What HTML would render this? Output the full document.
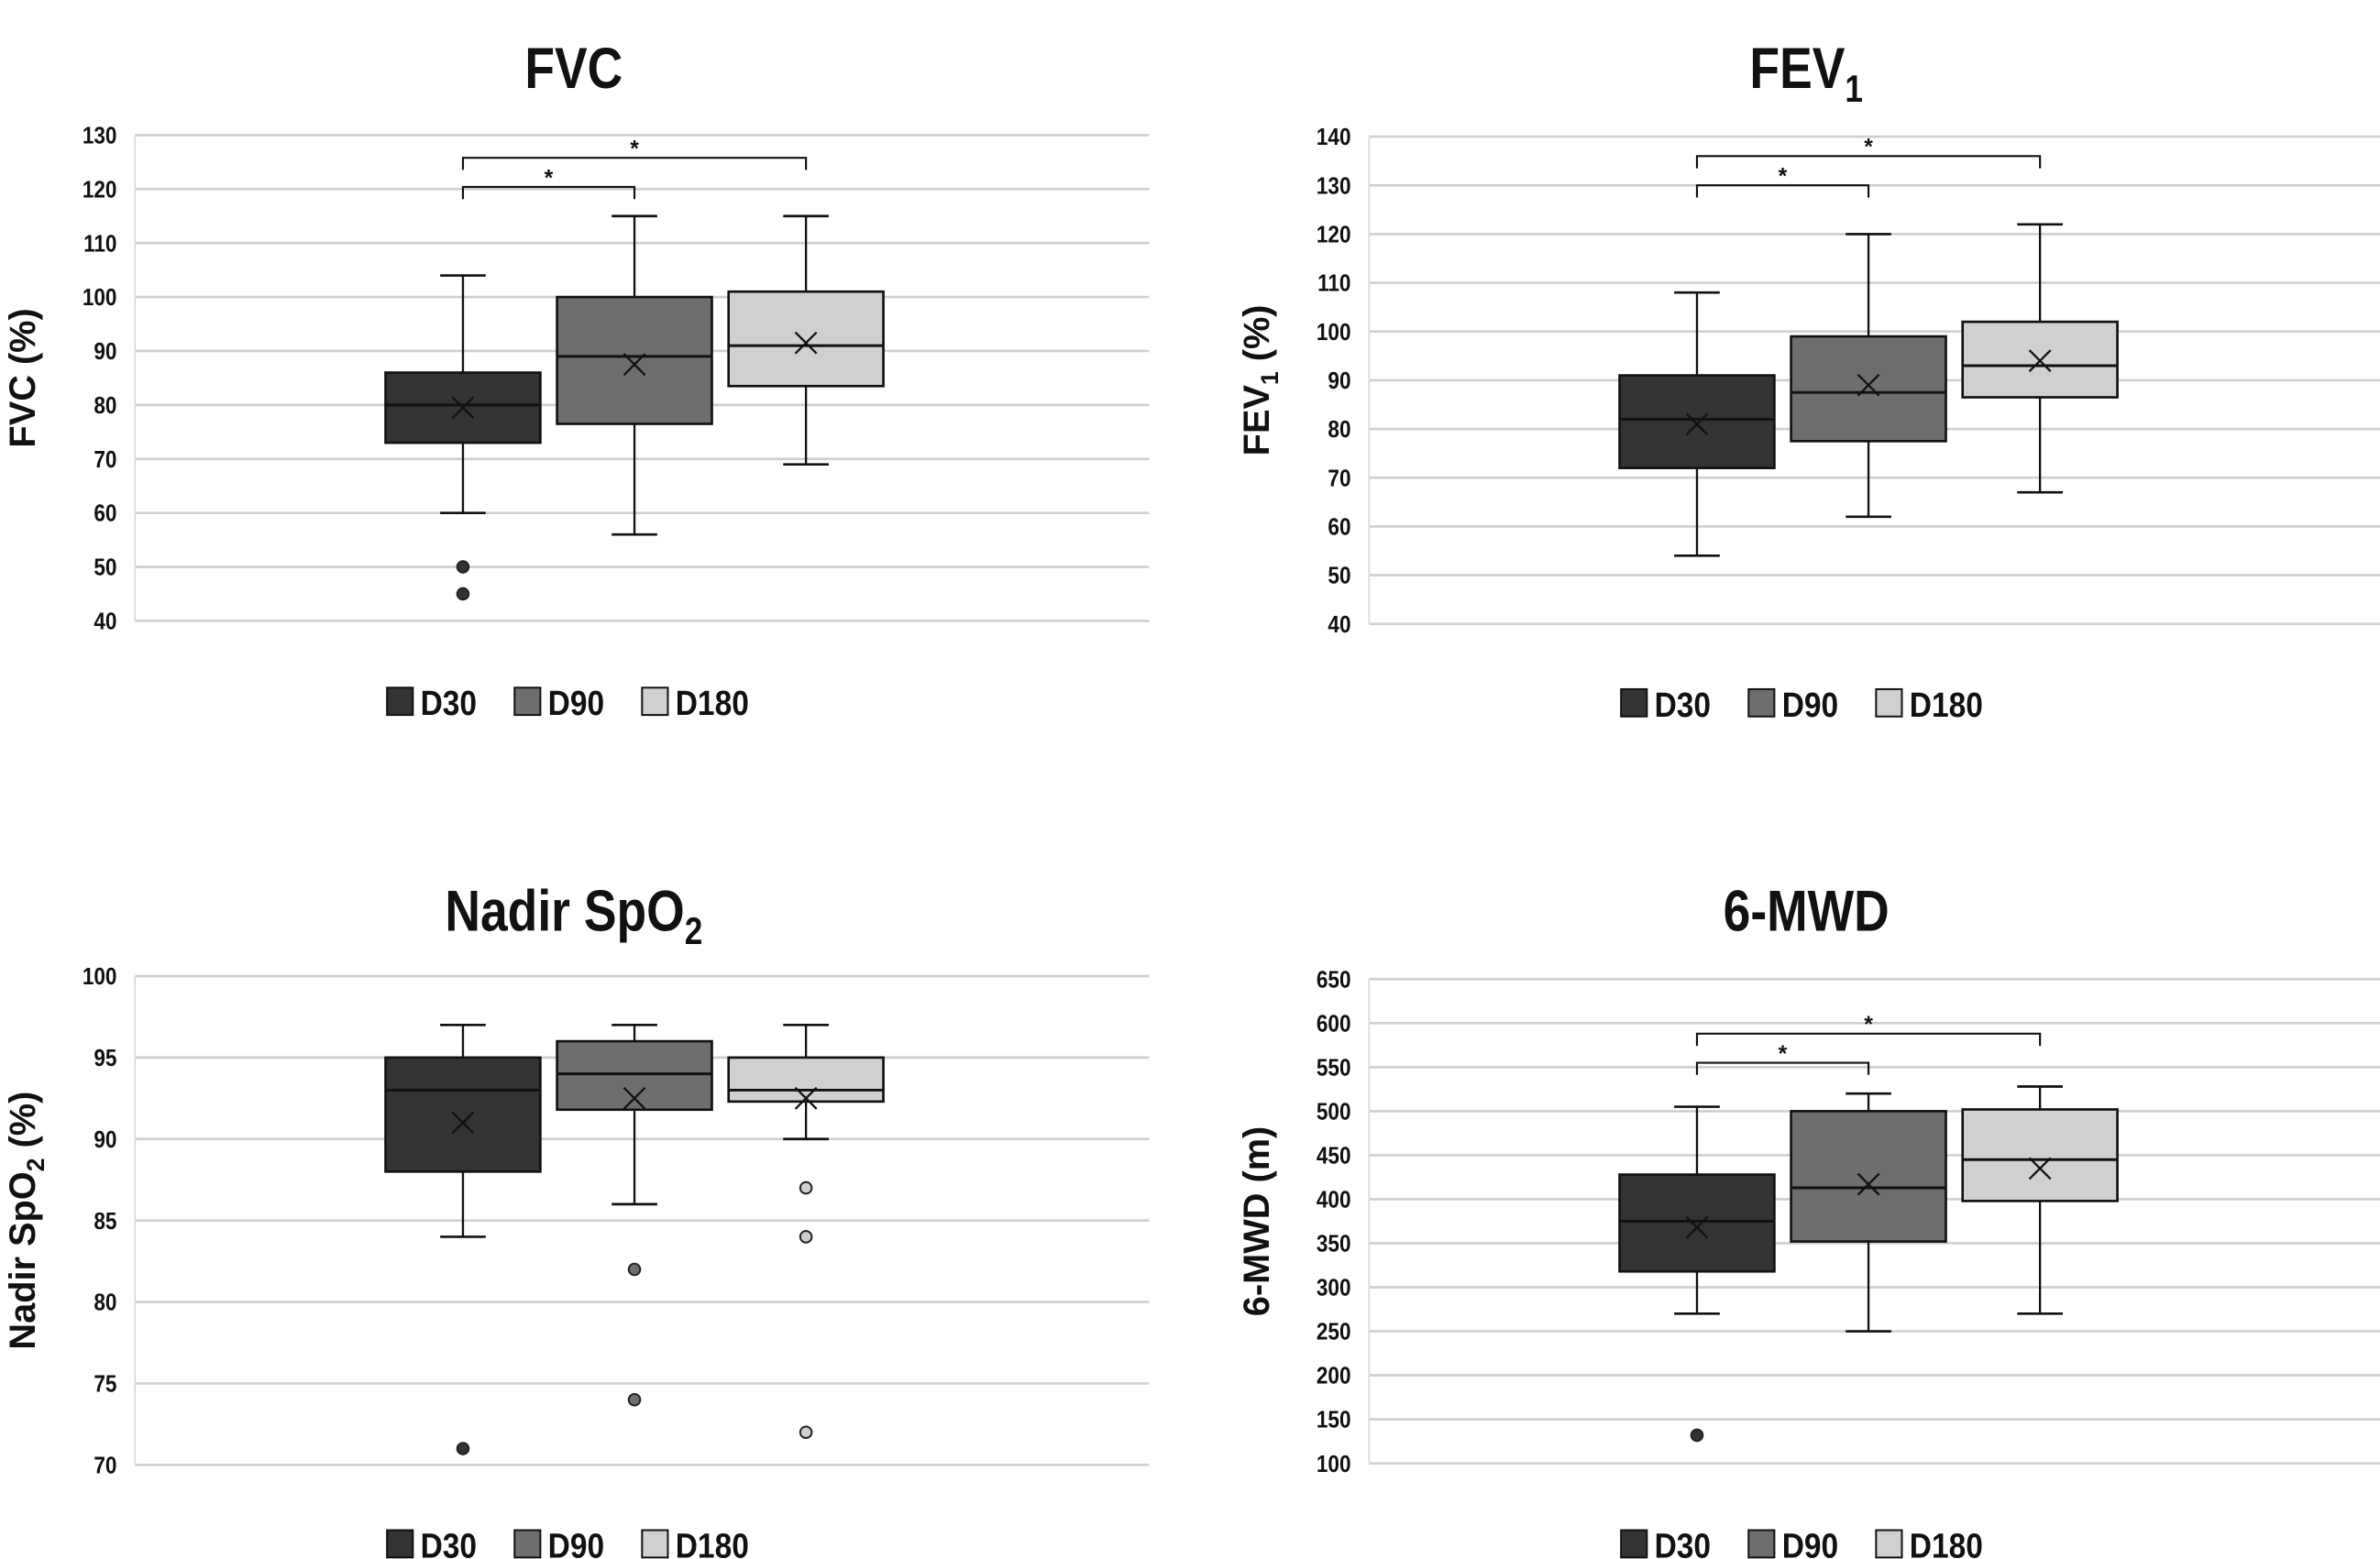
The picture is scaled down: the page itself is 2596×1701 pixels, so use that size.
<!DOCTYPE html>
<html><head><meta charset="utf-8"><style>
html,body{margin:0;padding:0;background:#fff;}
svg{display:block;}
text{font-family:"Liberation Sans",sans-serif;font-weight:bold;fill:#111;}
</style></head><body>
<svg id="fig" width="2596" height="1701" viewBox="0 0 1568 1027" preserveAspectRatio="none" xmlns="http://www.w3.org/2000/svg"></svg>
<script>
const categories = ["D30", "D90", "D180"];
const fills = ["#333333", "#6e6e6e", "#d0d0d0"];
// FVC
const fvcTicks = [40,50,60,70,80,90,100,110,120,130];
const fvcWhiskerLow = [60, 56, 69];
const fvcQ1 = [73, 76.5, 83.5];
const fvcMedian = [80, 89, 91];
const fvcQ3 = [86, 100, 101];
const fvcWhiskerHigh = [104, 115, 115];
const fvcMean = [79.5, 87.5, 91.5];
const fvcOutliers = [[50, 45], [], []];
const fvcBrackets = [[0, 1, 120.4], [0, 2, 125.8]];
// FEV1
const fevTicks = [40,50,60,70,80,90,100,110,120,130,140];
const fevWhiskerLow = [54, 62, 67];
const fevQ1 = [72, 77.5, 86.5];
const fevMedian = [82, 87.5, 93];
const fevQ3 = [91, 99, 102];
const fevWhiskerHigh = [108, 120, 122];
const fevMean = [81, 89, 94];
const fevOutliers = [[], [], []];
const fevBrackets = [[0, 1, 130], [0, 2, 136]];
// Nadir SpO2
const spoTicks = [70,75,80,85,90,95,100];
const spoWhiskerLow = [84, 86, 90];
const spoQ1 = [88, 91.8, 92.3];
const spoMedian = [93, 94, 93];
const spoQ3 = [95, 96, 95];
const spoWhiskerHigh = [97, 97, 97];
const spoMean = [91, 92.5, 92.5];
const spoOutliers = [[71], [82, 74], [87, 84, 72]];
const spoBrackets = [];
// 6-MWD
const mwdTicks = [100,150,200,250,300,350,400,450,500,550,600,650];
const mwdWhiskerLow = [270, 250, 270];
const mwdQ1 = [318, 352, 398];
const mwdMedian = [375, 413, 445];
const mwdQ3 = [428, 500, 502];
const mwdWhiskerHigh = [505, 520, 528];
const mwdMean = [368, 417, 435];
const mwdOutliers = [[132], [], []];
const mwdBrackets = [[0, 1, 555], [0, 2, 588]];

const NS = "http://www.w3.org/2000/svg";
const svg = document.getElementById("fig");
function mk(tag, attrs, parent) {
  const e = document.createElementNS(NS, tag);
  for (const k in attrs) e.setAttribute(k, attrs[k]);
  (parent || svg).appendChild(e);
  return e;
}
const panels = [
  {key:"fvc", title:"FVC", sub:"", ylab:"FVC (%)", ysub:"", x0:89, x1:757, yTop:89, yBot:409, cx0:305, ticks:fvcTicks, lo:fvcWhiskerLow, q1:fvcQ1, med:fvcMedian, q3:fvcQ3, hi:fvcWhiskerHigh, mean:fvcMean, out:fvcOutliers, br:fvcBrackets, ty:45, ly:462, ylx:15},
  {key:"fev1", title:"FEV", sub:"1", ylab:"FEV", ysub:"1", ylabAfter:" (%)", x0:902, x1:1568, yTop:90, yBot:411, cx0:1118, ticks:fevTicks, lo:fevWhiskerLow, q1:fevQ1, med:fevMedian, q3:fevQ3, hi:fevWhiskerHigh, mean:fevMean, out:fevOutliers, br:fevBrackets, ty:45, ly:463, ylx:828},
  {key:"nadir-spo2", title:"Nadir SpO", sub:"2", ylab:"Nadir SpO", ysub:"2", ylabAfter:" (%)", x0:89, x1:757, yTop:643, yBot:965, cx0:305, ticks:spoTicks, lo:spoWhiskerLow, q1:spoQ1, med:spoMedian, q3:spoQ3, hi:spoWhiskerHigh, mean:spoMean, out:spoOutliers, br:spoBrackets, ty:600, ly:1017, ylx:15},
  {key:"6mwd", title:"6-MWD", sub:"", ylab:"6-MWD (m)", ysub:"", x0:902, x1:1568, yTop:645, yBot:964, cx0:1118, ticks:mwdTicks, lo:mwdWhiskerLow, q1:mwdQ1, med:mwdMedian, q3:mwdQ3, hi:mwdWhiskerHigh, mean:mwdMean, out:mwdOutliers, br:mwdBrackets, ty:600, ly:1017, ylx:828}
];
const step = 113, bw = 102, cap = 15;
panels.forEach(p => {
  const g = mk("g", {});
  
  
  const tmin = p.ticks[0], tmax = p.ticks[p.ticks.length-1];
  const y = v => p.yBot - (v - tmin) / (tmax - tmin) * (p.yBot - p.yTop);
  const xc = i => p.cx0 + i * step;
  // title
  const tcx = (p.x0+p.x1)/2 - 45;
  const t = mk("text", {x: 0, y: 0, "font-size": 38, "text-anchor": "middle", transform: `translate(${tcx},${p.ty + 13}) scale(0.85,1)`}, g);
  
  
  t.textContent = p.title;
  if (p.sub) { const s = mk("tspan", {"font-size": 25, dy: 9}, t); s.textContent = p.sub; }
  // grid + ticks
  p.ticks.forEach(v => {
    const gl = mk("line", {x1: p.x0, x2: p.x1, y1: y(v), y2: y(v), stroke: "#cfcfcf", "stroke-width": 1.6}, g);
    
    
    const tl = mk("text", {x: 0, y: 0, "font-size": 15.5, "text-anchor": "end", transform: `translate(${p.x0 - 12},${y(v) + 5.5}) scale(0.88,1)`}, g);
    
    
    tl.textContent = v;
  });
  const ax = mk("line", {x1: p.x0, x2: p.x0, y1: p.yTop, y2: p.yBot, stroke: "#d8d8d8", "stroke-width": 1}, g);
  
  
  // y label
  const yl = mk("text", {x: 0, y: 0, "font-size": 24, "text-anchor": "middle", transform: `translate(${p.ylx + 8},${(p.yTop+p.yBot)/2}) rotate(-90)`}, g);
  
  
  yl.textContent = p.ylab;
  if (p.ysub) {
    const s = mk("tspan", {"font-size": 16, dy: 6}, yl); s.textContent = p.ysub;
    const a = mk("tspan", {dy: -6}, yl); a.textContent = p.ylabAfter;
  }
  // boxes
  categories.forEach((c, i) => {
    const bg = mk("g", {}, g);
    
    
    const x = xc(i);
    mk("line", {x1: x, x2: x, y1: y(p.hi[i]), y2: y(p.lo[i]), stroke: "#111", "stroke-width": 1.4}, bg);
    mk("line", {x1: x-cap, x2: x+cap, y1: y(p.hi[i]), y2: y(p.hi[i]), stroke: "#111", "stroke-width": 1.6}, bg);
    mk("line", {x1: x-cap, x2: x+cap, y1: y(p.lo[i]), y2: y(p.lo[i]), stroke: "#111", "stroke-width": 1.6}, bg);
    mk("rect", {x: x - bw/2, y: y(p.q3[i]), width: bw, height: y(p.q1[i]) - y(p.q3[i]), fill: fills[i], stroke: "#111", "stroke-width": 1.6}, bg);
    mk("line", {x1: x - bw/2, x2: x + bw/2, y1: y(p.med[i]), y2: y(p.med[i]), stroke: "#111", "stroke-width": 1.8}, bg);
    const my = y(p.mean[i]), m = 7;
    mk("path", {d: `M${x-m} ${my-m}L${x+m} ${my+m}M${x+m} ${my-m}L${x-m} ${my+m}`, stroke: "#111", "stroke-width": 1.4, fill: "none"}, bg);
    p.out[i].forEach(v => {
      const o = mk("circle", {cx: x, cy: y(v), r: 3.8, fill: i === 2 ? "#cfcfcf" : fills[i], stroke: "#222", "stroke-width": 1.2}, bg);
      
      
    });
  });
  // brackets
  p.br.forEach(b => {
    const by = y(b[2]), xa = xc(b[0]), xb = xc(b[1]);
    const bp = mk("path", {d: `M${xa} ${by+8}V${by}H${xb}V${by+8}`, stroke: "#111", "stroke-width": 1.3, fill: "none"}, g);
    
    
    const st = mk("text", {x: (xa+xb)/2, y: by - 1, "font-size": 15, "text-anchor": "middle"}, g);
    
    
    st.textContent = "*";
  });
  // legend
  const lx = p.cx0 - 50;
  const offs = [0, 84, 168];
  categories.forEach((c, i) => {
    const le = mk("g", {}, g);
    
    
    mk("rect", {x: lx + offs[i], y: p.ly - 9, width: 17, height: 18, fill: fills[i], stroke: "#111", "stroke-width": 1.2}, le);
    const lt = mk("text", {x: 0, y: 0, "font-size": 23, transform: `translate(${lx + offs[i] + 22},${p.ly + 9}) scale(0.88,1)`}, le);
    lt.textContent = c;
  });
});
</script>
</body></html>
